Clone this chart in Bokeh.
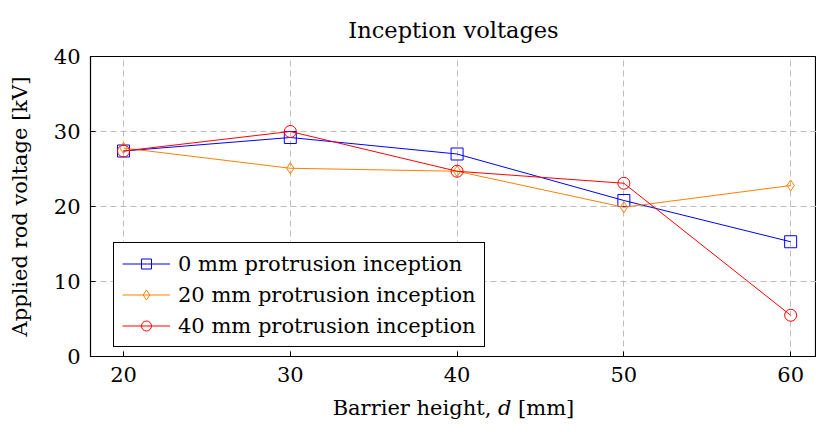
from bokeh.plotting import figure
from bokeh.models import Range1d, Legend, LegendItem, FixedTicker
from bokeh.embed import file_html
from bokeh.resources import INLINE

heights = [20, 30, 40, 50, 60]
v0 = [27.4, 29.2, 27.0, 20.8, 15.3]
v20 = [27.8, 25.1, 24.7, 19.9, 22.8]
v40 = [27.4, 30.0, 24.7, 23.1, 5.5]
labels = ["0 mm protrusion inception", "20 mm protrusion inception", "40 mm protrusion inception"]
yticks = [0, 10, 20, 30, 40]
FONT = "DejaVu Serif"
FS = "21px"

p = figure(width=816, height=432, output_backend="svg", toolbar_location=None,
           x_range=Range1d(18.02, 61.55), y_range=Range1d(0, 40),
           min_border_left=90, min_border_right=0, min_border_top=55, min_border_bottom=76)
p.title.text = "Inception voltages"
p.title.align = "center"
p.title.text_font = FONT
p.title.text_font_size = "22.5px"
p.title.text_font_style = "normal"
p.title.text_color = "black"
p.title.standoff = 28

p.outline_line_color = "black"
p.outline_line_width = 1.2
p.outline_line_alpha = 1

for ax in (p.xaxis[0], p.yaxis[0]):
    ax.major_label_text_font = FONT
    ax.major_label_text_font_size = FS
    ax.major_label_text_color = "black"
    ax.axis_label_text_font = FONT
    ax.axis_label_text_font_size = FS
    ax.axis_label_text_font_style = "normal"
    ax.axis_label_text_color = "black"
    ax.major_tick_in = 5
    ax.major_tick_out = 0
    ax.minor_tick_line_color = None
    ax.axis_line_color = "black"
    ax.major_tick_line_color = "black"
p.xaxis.ticker = FixedTicker(ticks=heights)
p.yaxis.ticker = FixedTicker(ticks=yticks)
p.xaxis.major_label_standoff = 10
p.yaxis.major_label_standoff = 10
p.xaxis.axis_label_standoff = 11
p.yaxis.axis_label_standoff = 19
p.xaxis.axis_label = "Barrier height, 𝑑 [mm]"
p.yaxis.axis_label = "Applied rod voltage [kV]"

p.grid.grid_line_color = "#bdbdbd"
p.grid.grid_line_dash = "6 4"
p.grid.grid_line_width = 1

colors = ["#0000ff", "#ff8000", "#ff0000"]
markers = ["square", "diamond", "circle"]
sizes = [12, 11, 12]
items = []
for vals, c, m, s, lab in zip([v0, v20, v40], colors, markers, sizes, labels):
    l = p.line(heights, vals, line_color=c, line_width=1)
    sc = p.scatter(heights, vals, marker=m, size=s, line_color=c, fill_color=None, line_width=1)
    items.append(LegendItem(label=lab, renderers=[l, sc]))

leg = Legend(items=items, location=(23, 9), label_text_font=FONT, label_text_font_size=FS,
             label_text_color="black",
             border_line_color="black", border_line_alpha=1, border_line_width=1,
             background_fill_alpha=1,
             glyph_width=48, label_height=25, glyph_height=25, spacing=6, padding=8,
             label_standoff=8, margin=0)
p.add_layout(leg, "center")

open("out.html", "w").write(file_html(p, INLINE))
